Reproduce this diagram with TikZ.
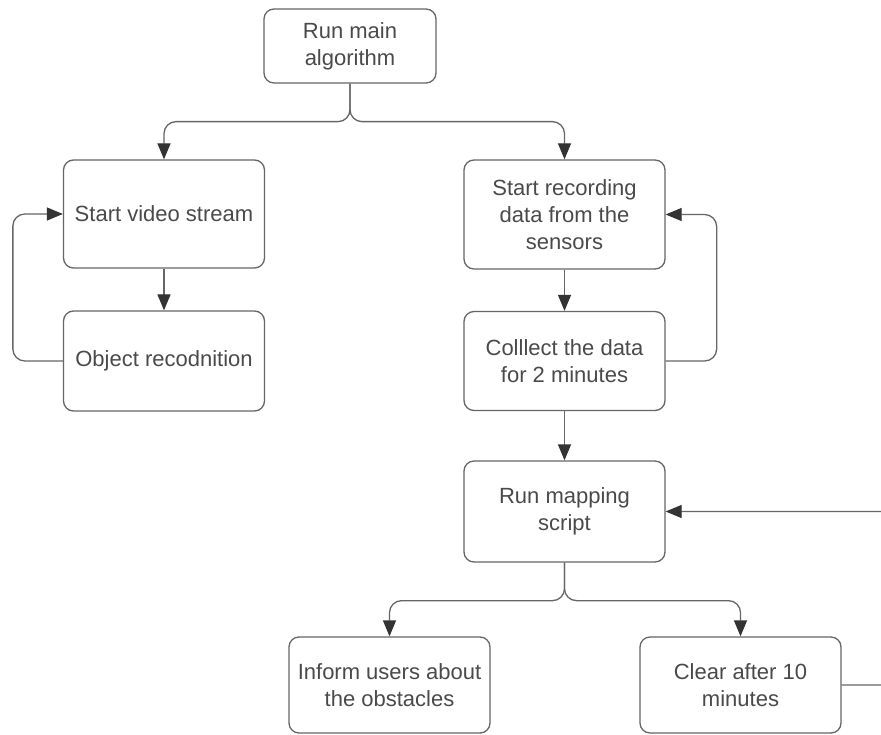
\documentclass[tikz,border=0pt]{standalone}
\usepackage{fontspec}
\setmainfont{Liberation Sans}
\usetikzlibrary{arrows.meta}
\definecolor{linec}{HTML}{666666}
\definecolor{textc}{HTML}{4A4A4A}
\definecolor{tipc}{HTML}{333333}
\begin{document}
\begin{tikzpicture}[x=1pt,y=-1pt,
  box/.style={draw=linec, line width=1.3pt, rounded corners=10pt, fill=white,
    align=center, text=textc, font=\fontsize{22}{26.7}\selectfont,
    inner sep=0pt, minimum width=201pt},
  conn/.style={draw=linec, line width=1.3pt, rounded corners=12pt,
    -{Triangle[length=16pt,width=13pt,fill=tipc,color=tipc]}}]
\useasboundingbox (0,0) rectangle (881,735);
\clip (0,0) rectangle (881,735);
\fill[white] (0,0) rectangle (881,735);

\node[box, minimum width=172pt, minimum height=74pt] (main) at (350,46) {Run main\\algorithm};
\node[box, minimum height=108pt] (sv) at (164,214) {Start video stream};
\node[box, minimum height=100pt] (obj) at (164,361) {Object recodnition};
\node[box, minimum height=109pt] (rec) at (564.5,214.5) {Start recording\\data from the\\sensors};
\node[box, minimum height=99pt] (col) at (564.5,361) {Colllect the data\\for 2 minutes};
\node[box, minimum height=101pt] (map) at (564.5,511.5) {Run mapping\\script};
\node[box, minimum height=96pt] (inf) at (389.5,685) {Inform users about\\the obstacles};
\node[box, minimum height=96pt] (clr) at (740.5,685) {Clear after 10\\minutes};

\draw[conn] (main.south) -- ++(0,38) -| (sv.north);
\draw[conn] (main.south) -- ++(0,38) -| (rec.north);
\draw[conn] (sv.south) -- (obj.north);
\draw[conn] (obj.west) -- ++(-50,0) |- (sv.west);
\draw[conn] (rec.south) -- (col.north);
\draw[conn] (col.east) -- ++(51,0) |- (rec.east);
\draw[conn] (col.south) -- (map.north);
\draw[conn] (map.south) -- ++(0,38) -| (inf.north);
\draw[conn] (map.south) -- ++(0,38) -| (clr.north);
\draw[conn] (clr.east) -- ++(80,0) |- (map.east);
\end{tikzpicture}
\end{document}
